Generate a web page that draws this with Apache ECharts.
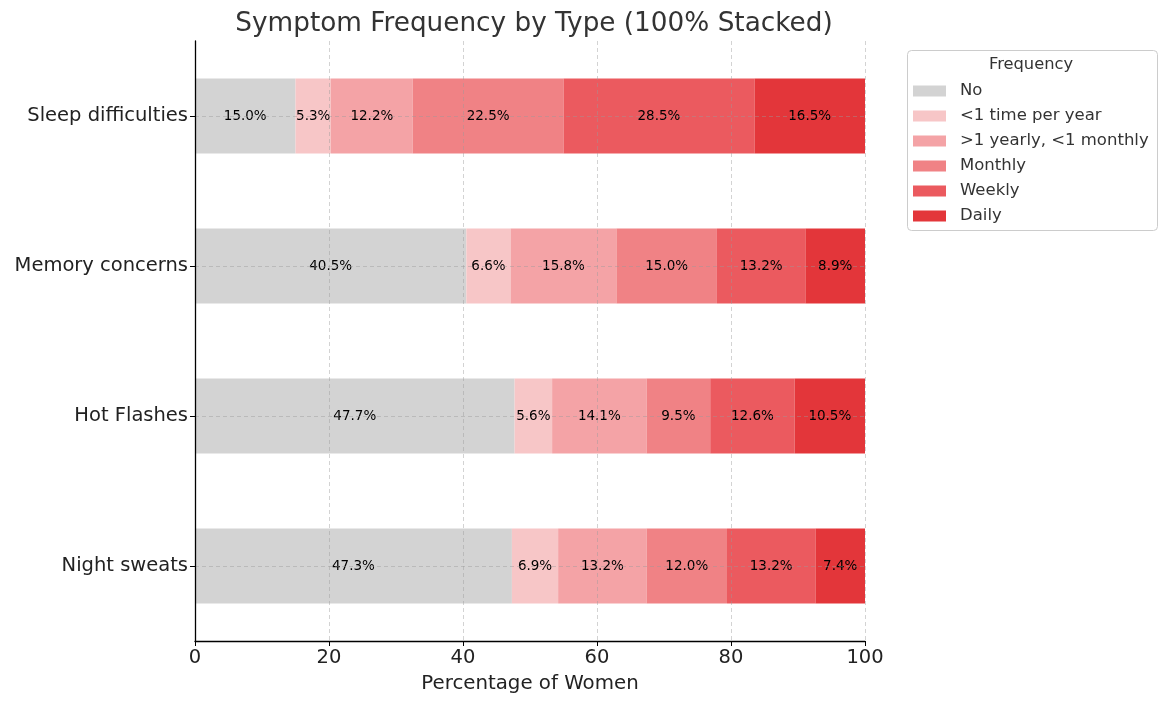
<!DOCTYPE html>
<html>
<head>
<meta charset="utf-8">
<script src="https://cdn.jsdelivr.net/npm/echarts@6/dist/echarts.min.js"></script>
<style>html,body{margin:0;padding:0;background:#fff;}#c{width:1167px;height:704px;}</style>
</head>
<body>
<div id="c"></div>
<script>
const categories = ['Sleep difficulties', 'Memory concerns', 'Hot Flashes', 'Night sweats'];
const seriesNames = ['No', '<1 time per year', '>1 yearly, <1 monthly', 'Monthly', 'Weekly', 'Daily'];
const noValues = [15.0, 40.5, 47.7, 47.3];
const lessOnceYearValues = [5.3, 6.6, 5.6, 6.9];
const yearlyMonthlyValues = [12.2, 15.8, 14.1, 13.2];
const monthlyValues = [22.5, 15.0, 9.5, 12.0];
const weeklyValues = [28.5, 13.2, 12.6, 13.2];
const dailyValues = [16.5, 8.9, 10.5, 7.4];
const xTicks = [0, 20, 40, 60, 80, 100];

const allValues = [noValues, lessOnceYearValues, yearlyMonthlyValues, monthlyValues, weeklyValues, dailyValues];
const colors = ['#d3d3d3', '#f7c6c7', '#f4a3a6', '#f08285', '#eb5a5f', '#e3363a'];
const FONT = 'DejaVu Sans';
const gridLine = { color: '#999', type: [4, 3], width: 0.8, opacity: 0.55 };

const series = seriesNames.map((name, i) => ({
  name: name,
  type: 'bar',
  stack: 'total',
  barWidth: '50%',
  data: allValues[i],
  itemStyle: { color: colors[i] },
  label: {
    show: true,
    position: 'inside',
    fontFamily: FONT,
    fontSize: 13.5,
    color: '#000',
    formatter: p => p.value.toFixed(1) + '%'
  }
}));

// Grid lines drawn above the bars, as in the reference
series.push({
  name: '_grid',
  type: 'line',
  data: [],
  z: 10,
  silent: true,
  markLine: {
    silent: true,
    symbol: ['none', 'none'],
    label: { show: false },
    lineStyle: gridLine,
    data: categories.map(c => ({ yAxis: c })).concat(xTicks.slice(1).map(v => ({ xAxis: v })))
  }
});

const chart = echarts.init(document.getElementById('c'));
chart.setOption({
  animation: false,
  backgroundColor: '#fff',
  title: {
    text: 'Symptom Frequency by Type (100% Stacked)',
    left: 529,
    textAlign: 'center',
    top: 6,
    textStyle: { fontFamily: FONT, fontSize: 26.3, fontWeight: 'normal', color: '#333' }
  },
  graphic: [{
    type: 'rect',
    left: 907,
    top: 50,
    shape: { width: 250, height: 180, r: 4 },
    style: { fill: '#fff', stroke: '#cccccc', lineWidth: 1 },
    z: -1
  }, {
    type: 'text',
    left: 989,
    top: 57,
    style: { text: 'Frequency', fontFamily: FONT, fontSize: 16.3, fill: '#333' }
  }],
  legend: {
    orient: 'vertical',
    left: 913,
    top: 82,
    padding: 0,
    itemWidth: 33,
    itemHeight: 11,
    itemGap: 7,
    icon: 'rect',
    data: seriesNames,
    textStyle: { fontFamily: FONT, fontSize: 16.5, color: '#333', lineHeight: 18, padding: [0, 0, 0, 9] }
  },
  grid: { left: 195, right: 302, top: 41, bottom: 63 },
  xAxis: {
    type: 'value',
    min: 0,
    max: 100,
    interval: 20,
    z: 5,
    name: 'Percentage of Women',
    nameLocation: 'middle',
    nameGap: 33,
    nameTextStyle: { fontFamily: FONT, fontSize: 19.8, color: '#222' },
    axisLine: { show: true, lineStyle: { color: '#000', width: 1.3 } },
    axisTick: { show: true, length: 5, lineStyle: { color: '#000' } },
    axisLabel: { fontFamily: FONT, fontSize: 19.5, color: '#222', margin: 7 },
    splitLine: { show: false }
  },
  yAxis: {
    type: 'category',
    data: categories,
    inverse: true,
    z: 5,
    axisLine: { show: true, lineStyle: { color: '#000', width: 1.3 } },
    axisTick: { show: true, alignWithLabel: true, length: 5, lineStyle: { color: '#000' } },
    axisLabel: { fontFamily: FONT, fontSize: 19.5, color: '#222', margin: 7, padding: [5, 0, 0, 0] },
    splitLine: { show: false }
  },
  series: series
});
</script>
</body>
</html>
